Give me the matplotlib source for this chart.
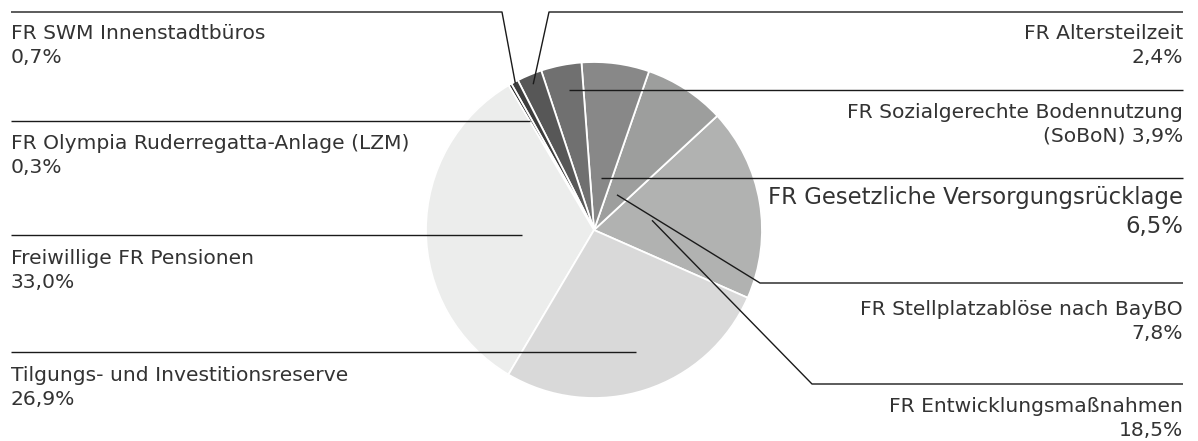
import matplotlib.pyplot as plt
import numpy as np

# data (percent shares), in drawing order starting at the right
names = ["FR Entwicklungsmaßnahmen", "FR Stellplatzablöse nach BayBO",
         "FR Gesetzliche Versorgungsrücklage", "FR Sozialgerechte Bodennutzung\n(SoBoN)",
         "FR Altersteilzeit", "FR SWM Innenstadtbüros",
         "FR Olympia Ruderregatta-Anlage (LZM)", "Freiwillige FR Pensionen",
         "Tilgungs- und Investitionsreserve"]
shares = [18.5, 7.8, 6.5, 3.9, 2.4, 0.7, 0.3, 33.0, 26.9]
pct_text = ["18,5%", "7,8%", "6,5%", "3,9%", "2,4%", "0,7%", "0,3%", "33,0%", "26,9%"]
colors = ["#b1b2b1", "#9d9e9d", "#888888", "#707070", "#575757",
          "#3d3d3d", "#262626", "#ecedec", "#d9d9d9"]

W, H = 1198, 441
cx, cy, R = 594, H - 230, 168

fig = plt.figure(figsize=(W / 100, H / 100), dpi=100)
ax = fig.add_axes([0, 0, 1, 1])

wedges, _ = ax.pie(shares, colors=colors, startangle=-23.8, counterclock=True,
                   center=(cx, cy), radius=R,
                   wedgeprops=dict(edgecolor="white", linewidth=1.3))
ax.set_xlim(0, W)
ax.set_ylim(0, H)
ax.set_aspect("equal")
ax.axis("off")

# label layout: side, line y (image px), anchor radius fraction,
# elbow x (None = straight), gap from line to text top, font size
layout = [
    ("r", 384, 0.35, 812, 13, 14.6),
    ("r", 283, 0.25, 760, 17, 14.6),
    ("r", 178, 0.31, None, 8, 16.4),
    ("r", 90, 0.77, None, 13, 14.6),
    ("r", 12, 0.94, 549, 12, 14.6),
    ("l", 12, 0.99, 502, 12, 14.6),
    ("l", 121, 0.76, None, 13, 14.6),
    ("l", 235, 0.43, None, 14, 14.6),
    ("l", 352, 0.82, None, 14, 14.6),
]

txt_kw = dict(family=["DejaVu Sans"], fontweight="normal", color="#333333")

for w, name, pct, (side, ly, rf, ex, gap, fs) in zip(wedges, names, pct_text, layout):
    mid = np.deg2rad((w.theta1 + w.theta2) / 2)
    axp = cx + rf * R * np.cos(mid)
    ayp = cy + rf * R * np.sin(mid)
    y = H - ly
    edge = 11 if side == "l" else 1183
    if ex is None:
        xs, ys = [edge, axp], [y, y]
    else:
        xs, ys = [edge, ex, axp], [y, y, ayp]
    ax.plot(xs, ys, color="#1a1a1a", lw=1.0, solid_capstyle="butt")

    if "\n" in name:
        label = name + " " + pct
    else:
        label = name + "\n" + pct
    ax.text(edge, y - gap, label, ha="left" if side == "l" else "right", va="top",
            fontsize=fs, linespacing=1.33, multialignment="left" if side == "l" else "right",
            **txt_kw)

fig.savefig("out.png", dpi=100)
